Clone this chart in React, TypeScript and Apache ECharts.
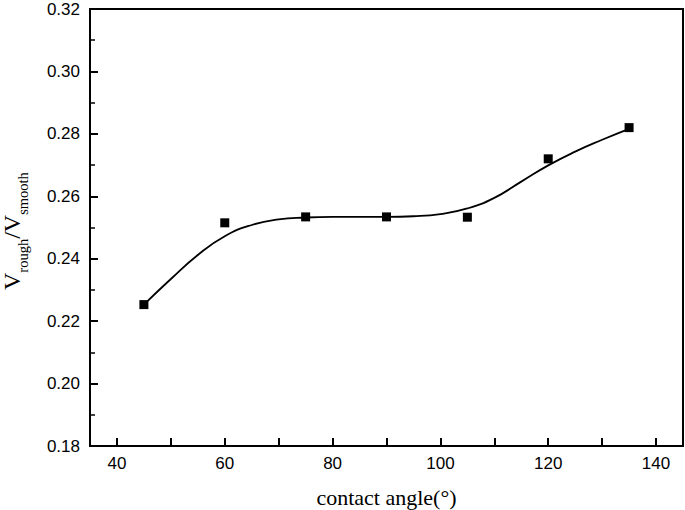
import React, { useEffect, useRef } from "react";
import * as echarts from "echarts";

const contactAngles = [45, 60, 75, 90, 105, 120, 135];
const ratioValues = [0.2253, 0.2515, 0.2534, 0.2534, 0.2533, 0.272, 0.282];

const fitAngles = [45, 50, 55, 60, 65, 70, 75, 80, 85, 90, 95, 100, 105, 110, 115, 120, 125, 130, 135];
const fitValues = [0.2253, 0.2335, 0.2412, 0.2472, 0.2508, 0.2526, 0.2532, 0.2534, 0.2534, 0.2534, 0.2536, 0.2543, 0.2561, 0.2595, 0.2647, 0.2699, 0.2743, 0.2781, 0.2816];

const xTicks = [40, 60, 80, 100, 120, 140];
const xTickMarks = [40, 50, 60, 70, 80, 90, 100, 110, 120, 130, 140];

// y-axis title pieces: [text, isSubscript]
const yTitleParts: [string, boolean][] = [
  ["V", false],
  ["rough", true],
  ["/V", false],
  ["smooth", true],
];

const SANS = "Liberation Sans, Arial, sans-serif";
const SERIF = "Liberation Serif, Times New Roman, serif";

export default function App() {
  const ref = useRef<HTMLDivElement>(null);
  useEffect(() => {
    if (!ref.current) return;
    const chart = echarts.init(ref.current, null, { renderer: "svg" });
    const axisLine = { show: true, lineStyle: { color: "#000", width: 2 } };
    const labelStyle = { color: "#000", fontFamily: SANS, fontSize: 17 };

    // build rotated y title from text pieces
    const bigSize = 24;
    const subSize = 14.5;
    const canvas = document.createElement("canvas");
    const ctx = canvas.getContext("2d");
    const measure = (t: string, size: number) => {
      if (!ctx) return t.length * size * 0.5;
      ctx.font = `${size}px ${SERIF}`;
      return ctx.measureText(t).width;
    };
    let cursor = 290; // bottom (start) of the rotated title
    const titleEls: any[] = yTitleParts.map(([t, sub]) => {
      const size = sub ? subSize : bigSize;
      const el = {
        type: "text",
        x: sub ? 22.5 : 12,
        y: cursor,
        rotation: Math.PI / 2,
        silent: true,
        style: {
          text: t,
          fill: "#000",
          font: `${size}px ${SERIF}`,
          textAlign: "left",
          textVerticalAlign: "middle",
        },
      };
      cursor -= measure(t, size);
      return el;
    });

    chart.setOption({
      animation: false,
      backgroundColor: "#fff",
      grid: {
        left: 90,
        top: 9,
        right: 2,
        bottom: 64,
        show: true,
        borderColor: "#000",
        borderWidth: 2,
        containLabel: false,
        outerBoundsMode: "none",
      },
      graphic: titleEls,
      xAxis: {
        type: "value",
        min: 35,
        max: 145,
        interval: 20,
        axisLine,
        splitLine: { show: false },
        axisTick: {
          show: true,
          inside: true,
          length: 8,
          customValues: xTickMarks,
          lineStyle: { color: "#000", width: 2 },
        },
        minorTick: { show: false },
        axisLabel: {
          ...labelStyle,
          margin: 9,
          customValues: xTicks,
          formatter: (v: number) => String(v),
        },
        name: "contact angle(°)",
        nameLocation: "middle",
        nameGap: 40,
        nameTextStyle: { color: "#000", fontFamily: SERIF, fontSize: 22 },
      },
      yAxis: {
        type: "value",
        min: 0.18,
        max: 0.32,
        interval: 0.02,
        axisLine,
        splitLine: { show: false },
        axisTick: { show: true, inside: true, length: 8, lineStyle: { color: "#000", width: 2 } },
        minorTick: { show: true, splitNumber: 2, length: 5, lineStyle: { color: "#000", width: 1.5 } },
        axisLabel: {
          ...labelStyle,
          margin: 10,
          formatter: (v: number) => v.toFixed(2),
        },
      },
      series: [
        {
          type: "line",
          data: fitAngles.map((a, i) => [a, fitValues[i]]),
          smooth: 0.5,
          showSymbol: false,
          symbol: "none",
          lineStyle: { color: "#000", width: 1.8 },
          silent: true,
          z: 2,
        },
        {
          type: "scatter",
          data: contactAngles.map((a, i) => [a, ratioValues[i]]),
          symbol: "rect",
          symbolSize: 9,
          itemStyle: { color: "#000", opacity: 1 },
          z: 3,
        },
      ],
    });
    return () => chart.dispose();
  }, []);
  return (
    <div
      ref={ref}
      style={{ position: "fixed", left: 0, top: 0, width: 685, height: 510 }}
    />
  );
}
